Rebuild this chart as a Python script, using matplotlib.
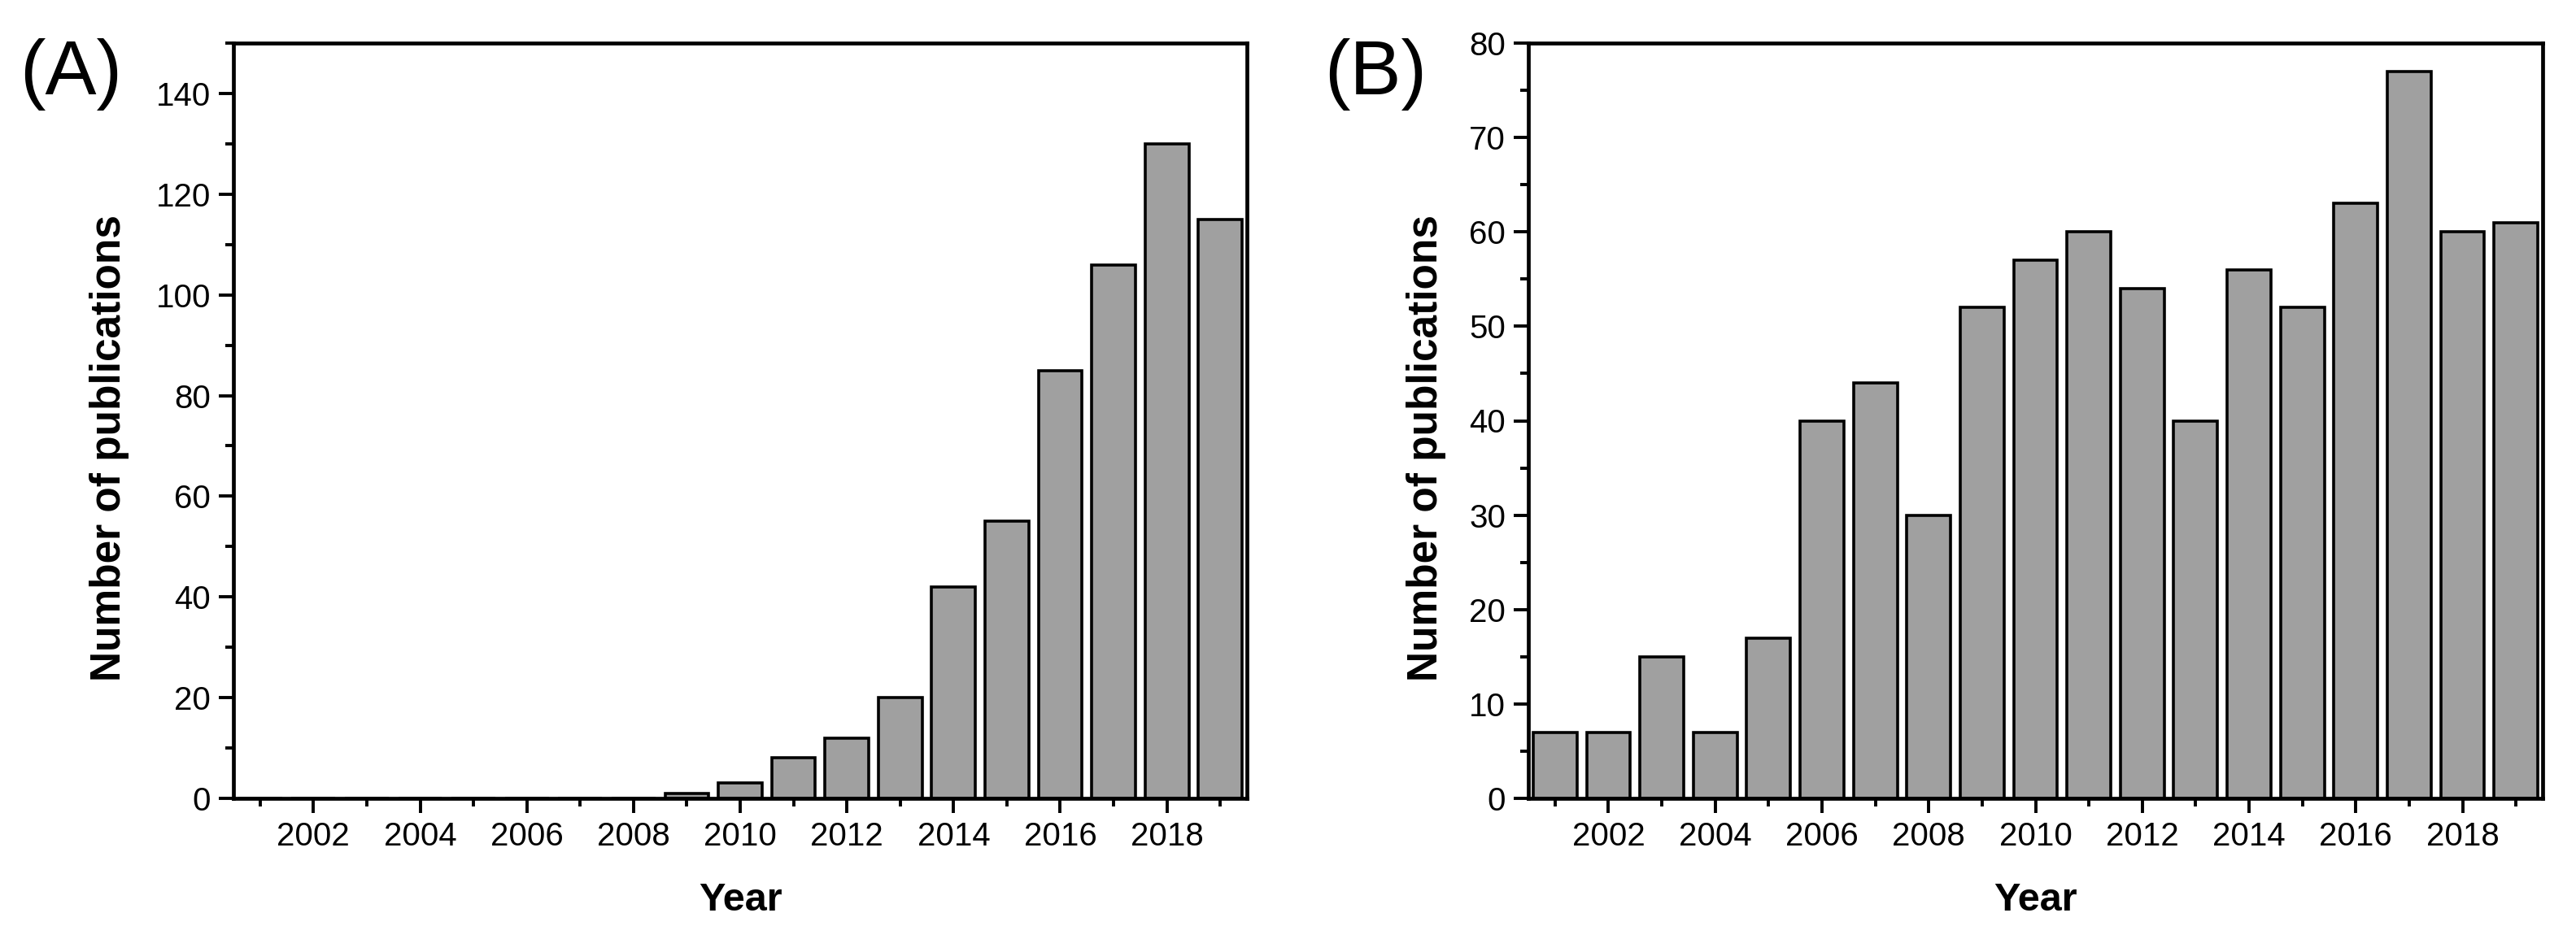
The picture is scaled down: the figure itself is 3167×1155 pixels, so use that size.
import numpy as np
import matplotlib
matplotlib.use('Agg')
import matplotlib.pyplot as plt
from matplotlib.ticker import MultipleLocator

plt.rcParams['font.family'] = ['Liberation Sans', 'DejaVu Sans']

# publications per year
years = list(range(2001, 2020))
counts_a = [0, 0, 0, 0, 0, 0, 0, 0, 1, 3, 8, 12, 20, 42, 55, 85, 106, 130, 115]
counts_b = [7, 7, 15, 7, 17, 40, 44, 30, 52, 57, 60, 54, 40, 56, 52, 63, 77, 60, 61]

panels = ['(A)', '(B)']
ylims = [150, 80]
ymajor = [20, 10]

W, H = 3167, 1155
fig = plt.figure(figsize=(W / 100, H / 100), dpi=100)

# axes boxes in pixels: left, right, top, bottom
boxes = [(287, 1533, 53, 982), (1879, 3126, 53, 982)]
ylab_x = [-0.122, -0.101]
tag_x = [24, 1628]

for i, counts in enumerate([counts_a, counts_b]):
    l, r, t, b = boxes[i]
    ax = fig.add_axes([l / W, 1 - b / H, (r - l) / W, (b - t) / H])
    ax.bar(years, counts, width=0.82, color='#a0a0a0', edgecolor='black',
           linewidth=2.6, zorder=2)
    ax.set_xlim(2000.5, 2019.5)
    ax.set_ylim(0, ylims[i])
    ax.set_xticks(range(2002, 2019, 2))
    ax.xaxis.set_minor_locator(MultipleLocator(1))
    ax.yaxis.set_major_locator(MultipleLocator(ymajor[i]))
    ax.yaxis.set_minor_locator(MultipleLocator(ymajor[i] / 2))
    ax.tick_params(which='major', length=13, width=2.8, labelsize=29, pad=7,
                   direction='out')
    ax.tick_params(which='minor', length=7, width=2.8, direction='out')
    ax.tick_params(top=False, right=False, which='both')
    for s in ax.spines.values():
        s.set_linewidth(3.4)
    ax.set_xlabel('Year', fontsize=35, fontweight='bold', va='center')
    ax.xaxis.set_label_coords(0.5, -0.135)
    ax.set_ylabel('Number of publications', fontsize=37, fontweight='bold',
                  va='center')
    ax.yaxis.set_label_coords(ylab_x[i], 0.464)
    fig.text(tag_x[i] / W, 1 - 91 / H, panels[i], fontsize=68,
             va='center', ha='left')

fig.savefig('out.png', dpi=100)
